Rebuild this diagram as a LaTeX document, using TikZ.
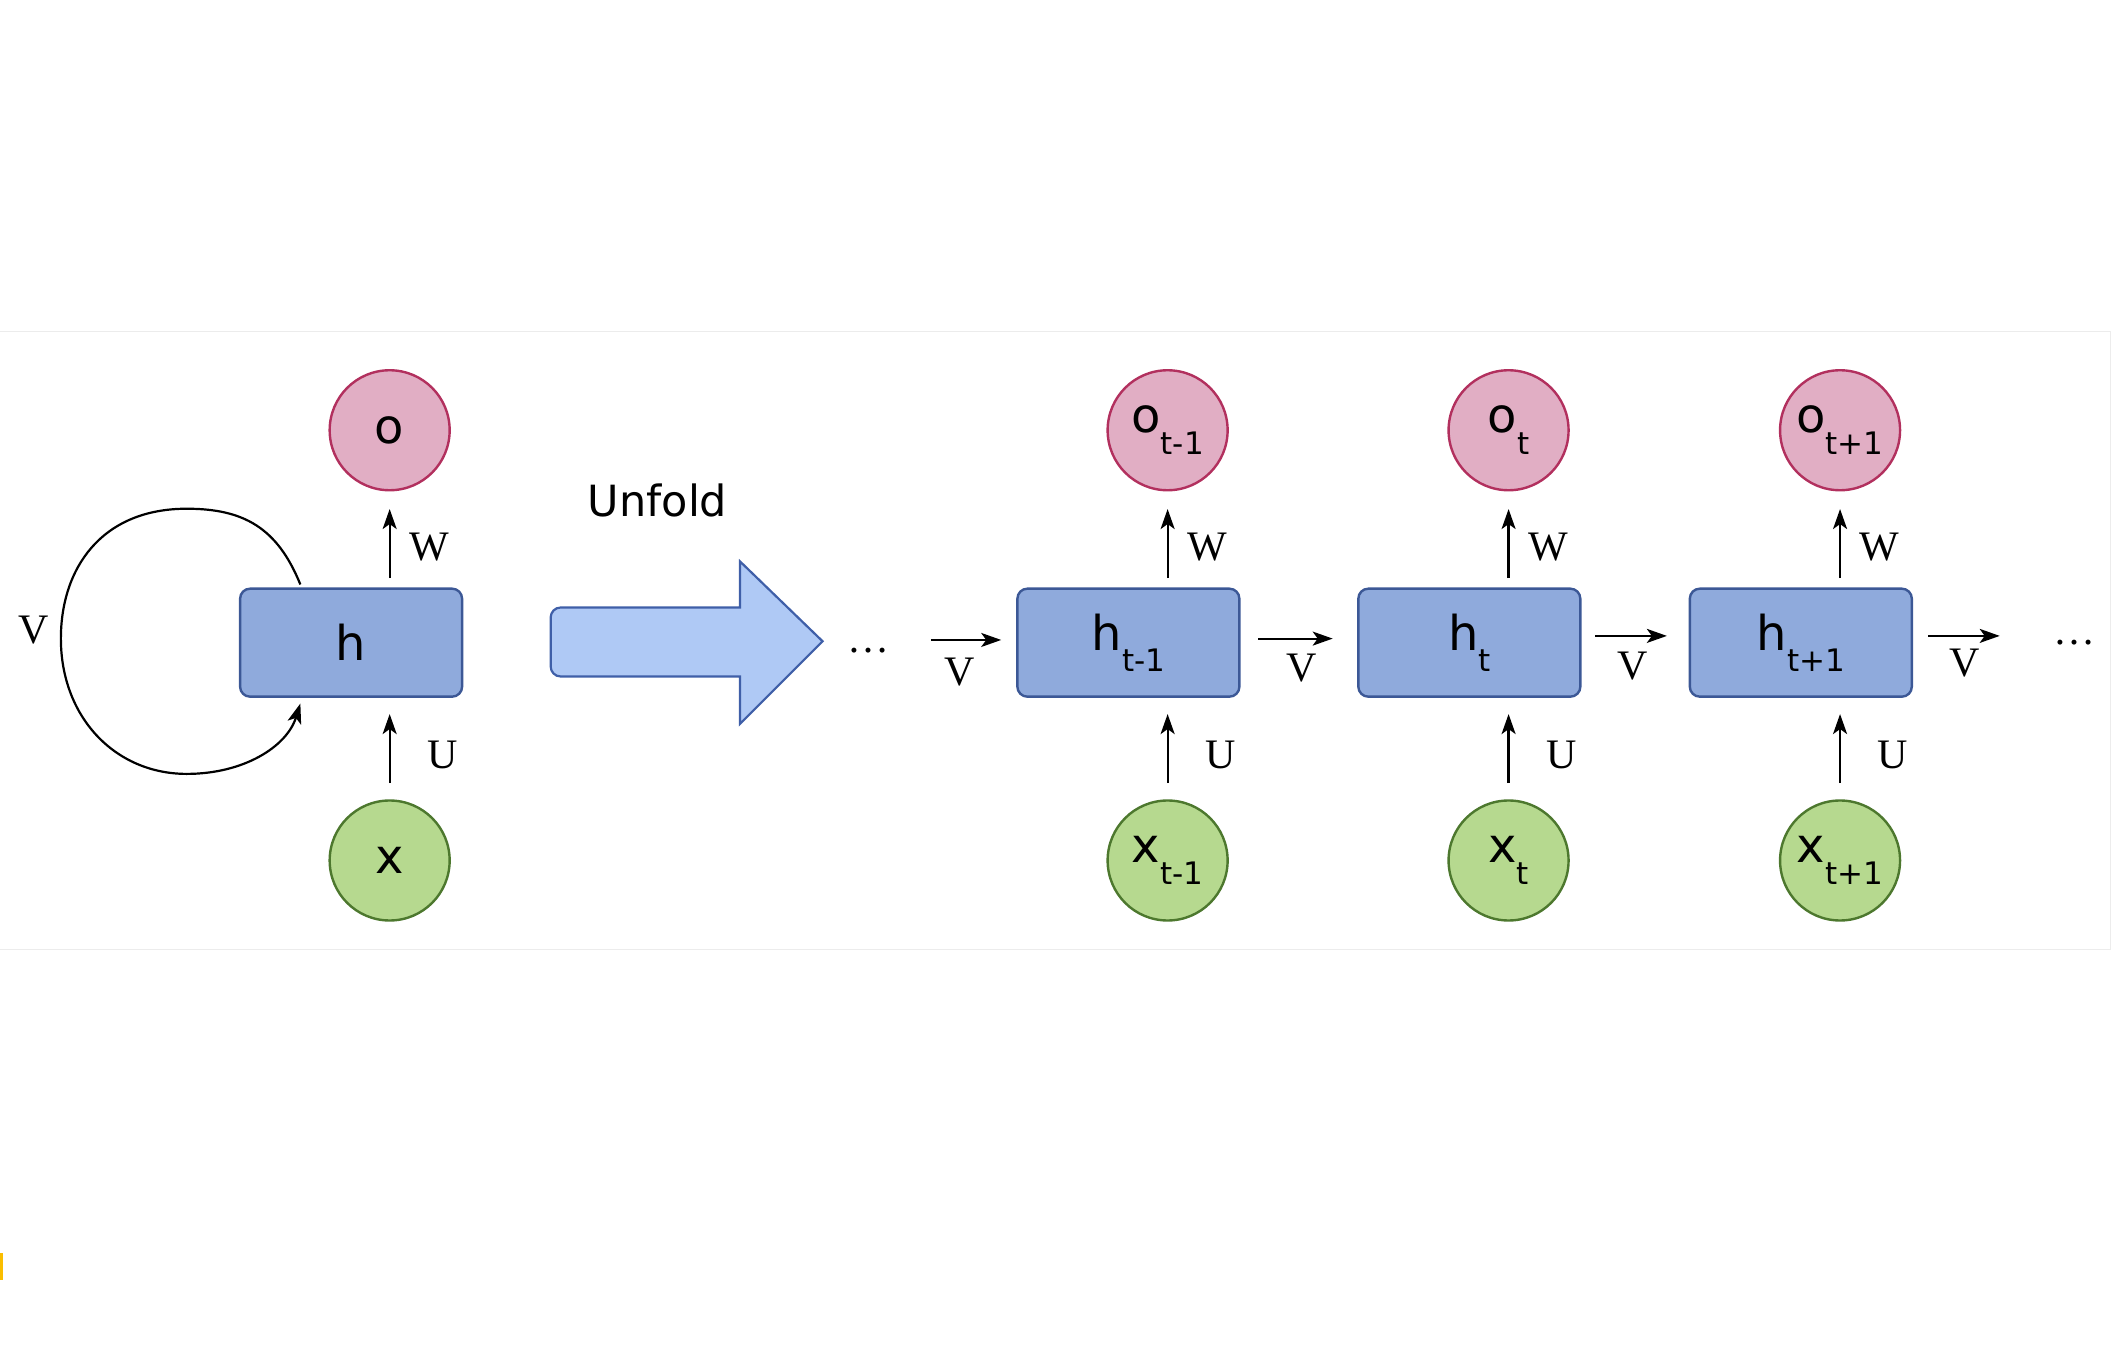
\documentclass[tikz,border=0pt]{standalone}
\usepackage{fontspec}
\setmainfont{Liberation Serif}
\newfontfamily\dvs{DejaVu Sans}
\usetikzlibrary{arrows.meta}
\definecolor{opink}{RGB}{225,174,196}
\definecolor{oborder}{RGB}{178,48,94}
\definecolor{hfill}{RGB}{143,170,220}
\definecolor{hborder}{RGB}{60,88,150}
\definecolor{xfill}{RGB}{182,217,143}
\definecolor{xborder}{RGB}{77,120,46}
\definecolor{afill}{RGB}{175,201,245}
\definecolor{aborder}{RGB}{63,95,168}
\definecolor{panelgray}{RGB}{236,236,236}
\definecolor{orangemark}{RGB}{250,190,0}
\newcommand\mysub[2]{#1\raisebox{-0.45em}{\fontsize{15.5}{17}\selectfont #2}}
\begin{document}
\begin{tikzpicture}[x=0.6765pt,y=-0.6765pt,
  onode/.style={circle,draw=oborder,fill=opink,line width=1.2pt,minimum size=60pt,inner sep=0pt,font=\dvs\fontsize{24}{28}\selectfont},
  xnode/.style={circle,draw=xborder,fill=xfill,line width=1.2pt,minimum size=60pt,inner sep=0pt,font=\dvs\fontsize{24}{28}\selectfont},
  hbox/.style={rectangle,rounded corners=5pt,draw=hborder,fill=hfill,line width=1.2pt,minimum width=111pt,minimum height=54pt,inner sep=0pt,font=\dvs\fontsize{24}{28}\selectfont},
  arr/.style={-{Stealth[length=10pt,width=7pt,inset=2.5pt]},line width=1.1pt,black},
  wlab/.style={font=\fontsize{21}{24}\selectfont,inner sep=0pt},
  dots/.style={font=\fontsize{21}{24}\selectfont,inner sep=0pt},
]
\useasboundingbox (0,0) rectangle (1561,1008);
% panel
\draw[draw=panelgray,line width=0.6pt] (0,245) -- (1560,245) -- (1560,702) -- (0,702);
\fill[fill=orangemark] (0,926) rectangle (2.5,946);

% folded network
\node[onode] (o) at (288,318) {o};
\node[hbox] (h) at (259.5,475) {h};
\node[xnode] (x) at (288,636) {x};
\draw[arr,shorten <=4.7pt,shorten >=8.8pt] (o.south |- h.north) -- (o.south);
\draw[arr,shorten <=8.1pt,shorten >=8.1pt] (x.north) -- (x.north |- h.south);
\node[wlab] (wl) at (317,404) {W};
\node[wlab] (ul) at (327,558) {U};
\coordinate (ls) at (222,432);
\coordinate (le) at (222,520);
\draw[arr] (ls) .. controls (205,390) and (180,376) .. (138,376)
  .. controls (75,376) and (45,420) .. (45,472)
  .. controls (45,530) and (85,572) .. (138,572)
  .. controls (180,572) and (212,552) .. (le);
\node[wlab] (vl) at (25,466) {V};

% unfold arrow
\node[font=\dvs\fontsize{21.5}{25}\selectfont,inner sep=0pt] (unf) at (486,370) {Unfold};
\draw[draw=aborder,fill=afill,line width=1.1pt,line join=miter]
  (547,449) -- (547,415) -- (608,474) -- (547,535) -- (547,500)
  {[rounded corners=5pt] -- (407,500) -- (407,449)} -- cycle;

% unfolded network
\node[dots] (d1) at (642,481) {\ldots};
\node[dots] (d2) at (1533,475) {\ldots};

\foreach \n/\hx/\cx/\s in {a/834/863/t-1, b/1086/1115/t, c/1331/1360/t+1}{
  \node[onode] (o\n) at (\cx,318) {\mysub{o}{\s}};
  \node[hbox] (h\n) at (\hx,475) {\mysub{h}{\s}};
  \node[xnode] (x\n) at (\cx,636) {\mysub{x}{\s}};
  \draw[arr,shorten <=4.7pt,shorten >=8.8pt] (o\n.south |- h\n.north) -- (o\n.south);
  \draw[arr,shorten <=8.1pt,shorten >=8.1pt] (x\n.north) -- (x\n.north |- h\n.south);
  \node[wlab] (w\n) at (\cx+29,404) {W};
  \node[wlab] (u\n) at (\cx+39,558) {U};
}

\coordinate (v1s) at (688,473); \coordinate (v1e) at (740,473);
\coordinate (v2s) at (930,472); \coordinate (v2e) at (985,472);
\coordinate (v3s) at (1179,470); \coordinate (v3e) at (1232,470);
\coordinate (v4s) at (1425,470); \coordinate (v4e) at (1478,470);
\draw[arr] (v1s) -- (v1e);
\draw[arr] (v2s) -- (v2e);
\draw[arr] (v3s) -- (v3e);
\draw[arr] (v4s) -- (v4e);
\node[wlab] (va) at (709,497) {V};
\node[wlab] (vb) at (962,494) {V};
\node[wlab] (vc) at (1207,492) {V};
\node[wlab] (vd) at (1452,490) {V};
\end{tikzpicture}
\end{document}
